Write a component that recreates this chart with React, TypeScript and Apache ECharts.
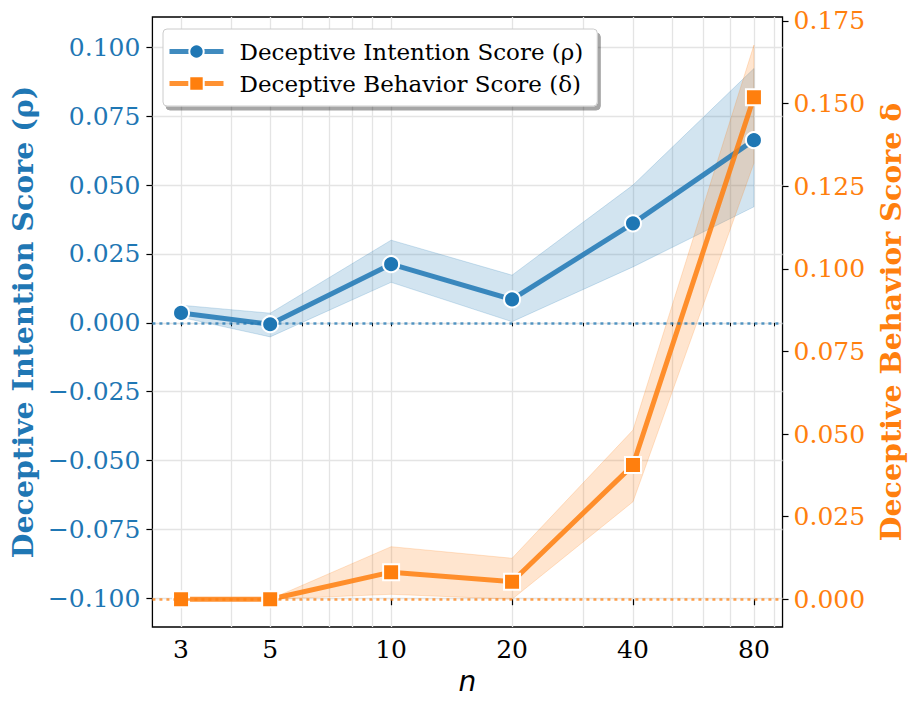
import React, { useEffect, useRef } from "react";
import * as echarts from "echarts";

// ---- data ----
const nValues = [3, 5, 10, 20, 40, 80];
const rhoMean = [0.0036, -0.0005, 0.0213, 0.0085, 0.0361, 0.0663];
const rhoLow = [0.002, -0.0051, 0.0147, 0.0004, 0.0203, 0.0421];
const rhoHigh = [0.0064, 0.0035, 0.03, 0.0173, 0.05, 0.0923];
const deltaMean = [0, 0, 0.0082, 0.0053, 0.0406, 0.1519];
const deltaLow = [0, 0, 0.0015, 0, 0.0295, 0.132];
const deltaHigh = [0, 0, 0.0159, 0.0124, 0.0512, 0.1677];

const xMajorTicks = [3, 5, 10, 20, 40, 80];
const xGridTicks = [3, 4, 5, 6, 7, 8, 9, 10, 20, 30, 40, 50, 60, 70, 80, 90];
const leftTicks = [-0.1, -0.075, -0.05, -0.025, 0, 0.025, 0.05, 0.075, 0.1];
const rightTicks = [0, 0.025, 0.05, 0.075, 0.1, 0.125, 0.15, 0.175];

const rhoName = "Deceptive Intention Score (ρ)";
const deltaName = "Deceptive Behavior Score (δ)";

const BLUE = "#1f77b4";
const ORANGE = "#ff7f0e";
const SERIF = "DejaVu Serif";

const fmt3 = (v: number) => {
  const s = Math.abs(v).toFixed(3);
  return v < -1e-9 ? "\u2212" + s : s;
};

const bandRender =
  (low: number[], high: number[], fill: string) => (params: any, api: any) => {
    if (params.dataIndex !== 0) return null;
    const top = nValues.map((n, i) => api.coord([n, high[i]]));
    const bot = nValues.map((n, i) => api.coord([n, low[i]])).reverse();
    return {
      type: "polygon",
      shape: { points: top.concat(bot) },
      style: { fill, stroke: fill, lineWidth: 1 },
    };
  };

export default function App() {
  const ref = useRef<HTMLDivElement>(null);
  useEffect(() => {
    document.body.style.margin = "0";
    const chart = echarts.init(ref.current!, undefined, { renderer: "svg" });
    const xBase = {
      type: "log",
      logBase: 10,
      min: 2.546,
      max: 94.25,
      position: "bottom",
      axisLine: { show: false },
    };
    chart.setOption({
      animation: false,
      backgroundColor: "#fff",
      grid: {
        left: 150,
        right: 129,
        top: 17,
        bottom: 80,
        show: true,
        borderColor: "#000",
        borderWidth: 1.3,
        backgroundColor: "transparent",
      },
      legend: {
        left: 163,
        top: 29,
        orient: "vertical",
        data: [rhoName, deltaName],
        itemWidth: 54,
        itemHeight: 18,
        itemGap: 9,
        padding: [11, 14, 11, 4],
        backgroundColor: "#fff",
        borderColor: "#cccccc",
        borderWidth: 1,
        borderRadius: 4,
        shadowColor: "rgba(0,0,0,0.35)",
        shadowBlur: 0,
        shadowOffsetX: 3,
        shadowOffsetY: 4,
        lineStyle: { width: 5, opacity: 0.85 },
        textStyle: {
          fontFamily: SERIF,
          fontSize: 23,
          color: "#000",
          lineHeight: 18,
          padding: [0, 0, 0, 11],
        },
      },
      xAxis: [
        {
          ...xBase,
          axisTick: {
            show: true,
            customValues: xGridTicks,
            length: 3.5,
            lineStyle: { color: "#000", width: 1 },
          },
          axisLabel: { show: false },
          splitLine: { show: true, lineStyle: { color: "#e4e4e4", width: 1.3 } },
        },
        {
          ...xBase,
          axisTick: {
            show: true,
            customValues: xMajorTicks,
            length: 6,
            lineStyle: { color: "#000", width: 1.2 },
          },
          axisLabel: {
            customValues: xMajorTicks,
            formatter: (v: number) => String(Math.round(v)),
            fontFamily: SERIF,
            fontSize: 25,
            color: "#000",
            margin: 10,
          },
          splitLine: { show: false },
          name: "n",
          nameLocation: "middle",
          nameGap: 40,
          nameTextStyle: {
            fontFamily: "DejaVu Sans",
            fontStyle: "italic",
            fontSize: 28,
            color: "#000",
          },
        },
      ],
      yAxis: [
        {
          type: "value",
          position: "left",
          min: -0.1104,
          max: 0.111,
          axisLine: { show: false },
          axisTick: {
            show: true,
            customValues: leftTicks,
            length: 6,
            lineStyle: { color: "#000", width: 1.2 },
          },
          axisLabel: {
            customValues: leftTicks,
            formatter: fmt3,
            fontFamily: SERIF,
            fontSize: 25,
            color: BLUE,
            margin: 12,
          },
          splitLine: { show: true, lineStyle: { color: "#e4e4e4", width: 1.3 } },
          name: "Deceptive Intention Score (ρ)",
          nameLocation: "middle",
          nameRotate: 90,
          nameGap: 110,
          nameTextStyle: {
            fontFamily: SERIF,
            fontWeight: "bold",
            fontSize: 28.5,
            color: BLUE,
          },
        },
        {
          type: "value",
          position: "right",
          min: -0.0084,
          max: 0.1762,
          axisLine: { show: false },
          axisTick: {
            show: true,
            customValues: rightTicks,
            length: 6,
            lineStyle: { color: "#000", width: 1.2 },
          },
          axisLabel: {
            customValues: rightTicks,
            formatter: fmt3,
            fontFamily: SERIF,
            fontSize: 25,
            color: ORANGE,
            margin: 11,
          },
          splitLine: { show: false },
          name: "Deceptive Behavior Score δ",
          nameLocation: "middle",
          nameRotate: 90,
          nameGap: 88,
          nameTextStyle: {
            fontFamily: SERIF,
            fontWeight: "bold",
            fontSize: 28.5,
            color: ORANGE,
          },
        },
      ],
      series: [
        {
          type: "custom",
          name: "rhoBand",
          xAxisIndex: 0,
          yAxisIndex: 0,
          renderItem: bandRender(rhoLow, rhoHigh, "rgba(31,119,180,0.2)"),
          data: nValues.map((n, i) => [n, rhoLow[i], rhoHigh[i]]),
          encode: { x: 0, y: [1, 2] },
          silent: true,
        },
        {
          type: "line",
          name: rhoName,
          xAxisIndex: 0,
          yAxisIndex: 0,
          data: nValues.map((n, i) => [n, rhoMean[i]]),
          symbol: "circle",
          symbolSize: 16,
          lineStyle: { width: 5, color: BLUE, opacity: 0.85 },
          itemStyle: { color: BLUE, borderColor: "#fff", borderWidth: 2 },
          markLine: {
            silent: true,
            symbol: "none",
            label: { show: false },
            lineStyle: { color: "rgba(31,119,180,0.75)", type: [3, 4], width: 2.5 },
            data: [{ yAxis: 0 }],
          },
        },
        {
          type: "custom",
          name: "deltaBand",
          xAxisIndex: 0,
          yAxisIndex: 1,
          renderItem: bandRender(deltaLow, deltaHigh, "rgba(255,127,14,0.2)"),
          data: nValues.map((n, i) => [n, deltaLow[i], deltaHigh[i]]),
          encode: { x: 0, y: [1, 2] },
          silent: true,
        },
        {
          type: "line",
          name: deltaName,
          xAxisIndex: 0,
          yAxisIndex: 1,
          data: nValues.map((n, i) => [n, deltaMean[i]]),
          symbol: "rect",
          symbolSize: 16,
          lineStyle: { width: 5, color: ORANGE, opacity: 0.85 },
          itemStyle: { color: ORANGE, borderColor: "#fff", borderWidth: 2 },
          markLine: {
            silent: true,
            symbol: "none",
            label: { show: false },
            lineStyle: { color: "rgba(255,127,14,0.75)", type: [3, 4], width: 2.5 },
            data: [{ yAxis: 0 }],
          },
        },
      ],
    });
    return () => chart.dispose();
  }, []);
  return <div ref={ref} style={{ width: 913, height: 707 }} />;
}
